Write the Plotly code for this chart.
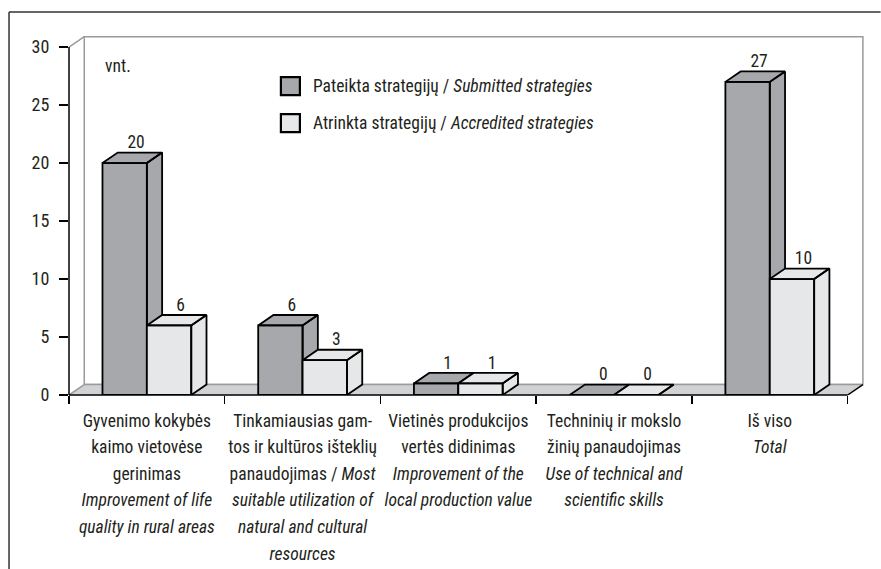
import plotly.graph_objects as go

# ---------------- data ----------------
categories = [
    "Gyvenimo kokybės<br>kaimo vietovėse<br>gerinimas<br><i>Improvement of life</i><br><i>quality in rural areas</i>",
    "Tinkamiausias gam-<br>tos ir kultūros išteklių<br>panaudojimas / <i>Most</i><br><i>suitable utilization of</i><br><i>natural and cultural</i><br><i>resources</i>",
    "Vietinės produkcijos<br>vertės didinimas<br><i>Improvement of the</i><br><i>local production value</i>",
    "Techninių ir mokslo<br>žinių panaudojimas<br><i>Use of technical and</i><br><i>scientific skills</i>",
    "Iš viso<br><i>Total</i>",
]
submitted = [20, 6, 1, 0, 27]
accredited = [6, 3, 1, 0, 10]
series_names = [
    "Pateikta strategijų / <i>Submitted strategies</i>",
    "Atrinkta strategijų / <i>Accredited strategies</i>",
]
y_ticks = [0, 5, 10, 15, 20, 25, 30]
unit_label = "vnt."

# ---------------- styling / geometry ----------------
FONT = "'Roboto Condensed', 'Noto Sans Condensed', 'Liberation Sans Narrow', 'DejaVu Sans Condensed', sans-serif"
FS = 17.5
LINE_FS = 20.5   # nominal size for tick labels -> line spacing like the reference
TXT = "#231f20"
COL_DARK = "#a7a8ab"
COL_LIGHT = "#e6e7e8"
COL_FLOOR = "#d1d2d4"
COL_WALL = "#9a9a9c"
W = 0.285        # bar width (category units)
DX = 0.098       # depth offset (x, category units)
DY = 0.9         # depth offset (y, value units)
YMAX = 30
XR = [-0.5, 4.65]
YR = [0, 31.3]

FIG_W, FIG_H = 881, 569
L = 69
PW = 155.8 * (XR[1] - XR[0])
R = FIG_W - L - PW
B = FIG_H - 395
PH = 11.6 * (YR[1] - YR[0])
T = FIG_H - B - PH


def px(x):   # reference pixel -> paper
    return (x - L) / PW


def py(y):
    return (395 - y) / PH


def box(x0, h):
    x1 = x0 + W
    xs = [x0, x0, x1, x1, x0, None,
          x0, x0 + DX, x1 + DX, x1, x0, None,
          x1, x1 + DX, x1 + DX, x1, x1]
    ys = [0, h, h, 0, 0, None,
          h, h + DY, h + DY, h, h, None,
          0, DY, h + DY, h, 0]
    return xs, ys


tick_text = ["<br>".join(f'<span style="font-size:{FS}px">{ln}</span>'
                         for ln in c.split("<br>")) for c in categories]

fig = go.Figure()

for i in range(len(categories)):
    for k, (vals, col) in enumerate([(submitted, COL_DARK), (accredited, COL_LIGHT)]):
        x0 = i - W + k * W
        xs, ys = box(x0, vals[i])
        fig.add_trace(go.Scatter(
            x=xs, y=ys, mode="lines", fill="toself", fillcolor=col,
            line=dict(color="black", width=1.8), showlegend=False,
            hoverinfo="skip"))

# value labels
for k, vals in enumerate([submitted, accredited]):
    fig.add_trace(go.Scatter(
        x=[i - W + k * W + W / 2 + 0.75 * DX for i in range(len(vals))],
        y=[v + DY for v in vals],
        text=[str(v) for v in vals], mode="text", textposition="top center",
        textfont=dict(family=FONT, size=FS, color=TXT),
        cliponaxis=False, showlegend=False, hoverinfo="skip"))

shapes = []
# back wall
shapes.append(dict(type="rect", xref="x", yref="y", x0=XR[0] + DX, x1=4.5 + DX,
                   y0=DY, y1=YMAX + DY, fillcolor="white",
                   line=dict(color=COL_WALL, width=1.5), layer="below"))
# floor
shapes.append(dict(type="path", xref="x", yref="y",
                   path=f"M -0.5,0 L 4.5,0 L {4.5+DX},{DY} L {-0.5+DX},{DY} Z",
                   fillcolor=COL_FLOOR, line=dict(width=0), layer="below"))
shapes.append(dict(type="line", xref="x", yref="y", x0=-0.5 + DX, x1=4.5 + DX,
                   y0=DY, y1=DY, line=dict(color=COL_WALL, width=1.5), layer="below"))
shapes.append(dict(type="line", xref="x", yref="y", x0=-0.5, x1=-0.5 + DX,
                   y0=0, y1=DY, line=dict(color=COL_WALL, width=1.5), layer="below"))
shapes.append(dict(type="line", xref="x", yref="y", x0=-0.5, x1=-0.5 + DX,
                   y0=YMAX, y1=YMAX + DY, line=dict(color=COL_WALL, width=1.5), layer="below"))
shapes.append(dict(type="line", xref="x", yref="y", x0=4.5, x1=4.5 + DX,
                   y0=0, y1=DY, line=dict(color="black", width=1.5)))
# axis lines
shapes.append(dict(type="line", xref="paper", yref="y", x0=0, x1=0, y0=0, y1=YMAX,
                   line=dict(color="black", width=1.5)))
shapes.append(dict(type="line", xref="x", yref="paper", x0=-0.5, x1=4.5, y0=0, y1=0,
                   line=dict(color="black", width=1.5)))
# outer frame
shapes.append(dict(type="line", xref="paper", yref="paper", x0=px(9), x1=px(881),
                   y0=py(12), y1=py(12), line=dict(color="#333333", width=1.5)))
shapes.append(dict(type="line", xref="paper", yref="paper", x0=px(9), x1=px(9),
                   y0=py(12), y1=py(569), line=dict(color="#333333", width=1.5)))

# legend (manual)
annotations = []
for k, (name, col) in enumerate(zip(series_names, [COL_DARK, COL_LIGHT])):
    yc = 86 + k * 37
    shapes.append(dict(type="rect", xref="paper", yref="paper",
                       x0=px(281), x1=px(300), y0=py(yc - 9), y1=py(yc + 9),
                       fillcolor=col, line=dict(color="black", width=2.2)))
    annotations.append(dict(xref="paper", yref="paper", x=px(311), y=py(yc),
                            xanchor="left", yanchor="middle", showarrow=False,
                            text=name, font=dict(family=FONT, size=FS, color=TXT)))

annotations.append(dict(xref="paper", yref="paper", x=px(103), y=py(66),
                        xanchor="left", yanchor="middle", showarrow=False,
                        text=unit_label, font=dict(family=FONT, size=FS, color=TXT)))

fig.update_layout(
    width=FIG_W, height=FIG_H,
    margin=dict(l=L, r=R, t=T, b=B, autoexpand=False),
    paper_bgcolor="white", plot_bgcolor="rgba(0,0,0,0)",
    shapes=shapes, annotations=annotations, showlegend=False,
    font=dict(family=FONT, size=FS, color=TXT),
    xaxis=dict(range=XR, tickmode="array", tickvals=list(range(len(categories))),
               ticktext=tick_text, ticks="", tickangle=0, showgrid=False,
               zeroline=False, showline=False, ticklabelstandoff=10,
               tickfont=dict(family=FONT, size=LINE_FS, color=TXT),
               minor=dict(tickmode="array", tickvals=[-0.5, 0.5, 1.5, 2.5, 3.5, 4.5],
                          ticks="outside", ticklen=8, tickwidth=1.5,
                          tickcolor="black", showgrid=False)),
    yaxis=dict(range=YR, tickmode="array", tickvals=y_ticks, ticks="outside",
               ticklen=9, tickwidth=1.5, tickcolor="black", showgrid=False,
               zeroline=False, showline=False, ticklabelstandoff=6,
               tickfont=dict(family=FONT, size=18, color=TXT)),
)

fig.write_html("out.html",
               config={"displayModeBar": False, "staticPlot": True},
               post_script="document.body.style.margin='0px';"
                           "document.body.style.overflow='hidden';")
